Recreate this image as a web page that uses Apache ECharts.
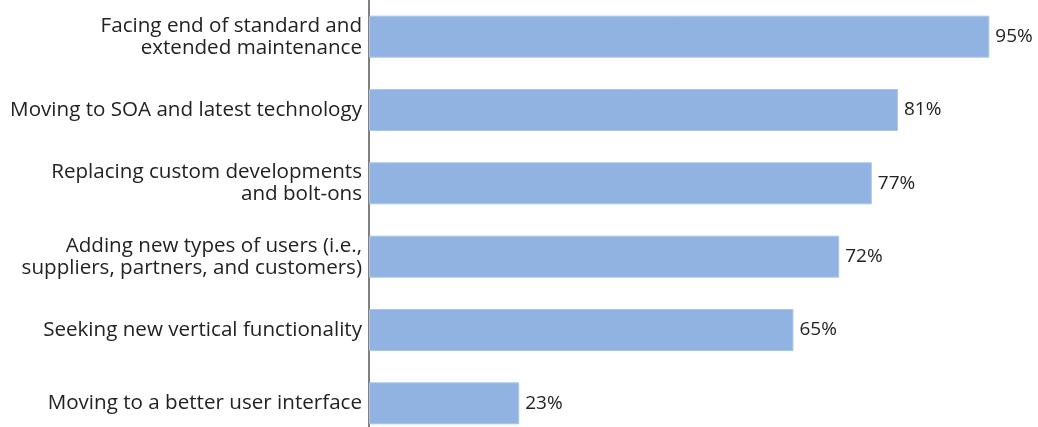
<!DOCTYPE html>
<html><head><meta charset="utf-8">
<script src="https://cdn.jsdelivr.net/npm/echarts@6/dist/echarts.min.js"></script>
<style>html,body{margin:0;padding:0;background:#fff}#c{width:1038px;height:427px}</style>
</head><body><div id="c"></div>
<script>
const categories = [
  "Facing end of standard and\nextended maintenance",
  "Moving to SOA and latest technology",
  "Replacing custom developments\nand bolt-ons",
  "Adding new types of users (i.e.,\nsuppliers, partners, and customers)",
  "Seeking new vertical functionality",
  "Moving to a better user interface"
];
const values = [95, 81, 77, 72, 65, 23];

const chart = echarts.init(document.getElementById('c'));
chart.setOption({
  animation: false,
  grid: { left: 369, right: 16, top: 0, bottom: -13, containLabel: false, outerBoundsMode: 'none' },
  xAxis: { type: 'value', min: 0, max: 100, show: false },
  yAxis: {
    type: 'category', data: categories, inverse: true,
    axisLine: { show: true, lineStyle: { color: '#555', width: 1.5 } },
    axisTick: { show: false },
    axisLabel: { color: '#222', fontFamily: 'Open Sans', fontSize: 20.6, lineHeight: 22, margin: 7, align: 'right' }
  },
  series: [{
    type: 'bar', data: values, barWidth: 42,
    itemStyle: { color: '#91B3E1', borderColor: '#A9C5EA', borderWidth: 1 },
    label: { show: true, position: 'right', distance: 6, formatter: '{c}%', color: '#222', fontFamily: 'Open Sans', fontSize: 19 }
  }]
});
</script></body></html>
